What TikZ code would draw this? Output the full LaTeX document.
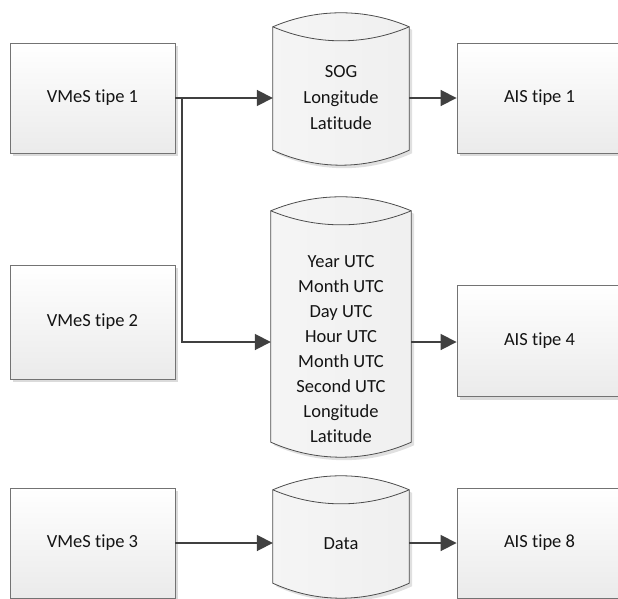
\documentclass[tikz,border=0pt]{standalone}
\usepackage{fontspec}
\setmainfont{Carlito}[Ligatures={NoCommon}]
\usetikzlibrary{calc,arrows.meta,shadows}

\tikzset{
  box/.style={draw=black!55, line width=0.9pt, top color=white, bottom color=black!8,
    minimum width=165pt, minimum height=110pt, inner sep=0pt,
    font=\fontsize{18.5}{22}\selectfont, text=black!92,
    general shadow={fill=black!14, shadow xshift=3pt, shadow yshift=-3pt}},
  dbbody/.style={minimum width=136pt, inner sep=0pt},
  dbline/.style={draw=black!70, line width=0.8pt, left color=black!4, middle color=white, right color=black!6,
    preaction={fill=black!12, transform canvas={shift={(3pt,-3pt)}}}},
  dbedge/.style={draw=black!70, line width=0.8pt},
  dbtext/.style={align=center, font=\fontsize{18.5}{25}\selectfont, text=black!92, inner sep=0pt},
  conn/.style={draw=black!75, line width=1.8pt, -{Triangle[length=16pt,width=16pt]}},
}

\newcommand\dbdraw[1]{%
  \path[dbline] (#1.north west)
    .. controls ($(#1.north west)!0.32!(#1.north east)+(0,-18.7)$) and ($(#1.north west)!0.68!(#1.north east)+(0,-18.7)$) .. (#1.north east)
    -- (#1.south east)
    .. controls ($(#1.south west)!0.68!(#1.south east)+(0,20)$) and ($(#1.south west)!0.32!(#1.south east)+(0,20)$) .. (#1.south west)
    -- cycle;
  \draw[dbedge] (#1.north west)
    .. controls ($(#1.north west)!0.32!(#1.north east)+(0,18.7)$) and ($(#1.north west)!0.68!(#1.north east)+(0,18.7)$) .. (#1.north east);
}

\begin{document}
\begin{tikzpicture}[x=1pt,y=-1pt]
\useasboundingbox (0,0) rectangle (618,599);

% source boxes
\node[box] (b1) at (92.5,98) {VMeS tipe 1};
\node[box, minimum height=114pt] (b2) at (92.5,322) {VMeS tipe 2};
\node[box] (b3) at (92.5,543) {VMeS tipe 3};

% target boxes
\node[box] (a1) at (539.5,98) {AIS tipe 1};
\node[box, minimum height=111pt] (a4) at (539.5,341) {AIS tipe 4};
\node[box] (a8) at (539.5,543) {AIS tipe 8};

% cylinders (body between corner line and side end)
\node[dbbody, minimum height=123pt] (c1) at (341,88.5) {};
\node[dbbody, minimum width=140pt, minimum height=231pt] (c2) at (341,326.5) {};
\node[dbbody, minimum height=93pt] (c3) at (341,536.5) {};
\dbdraw{c1}
\dbdraw{c2}
\dbdraw{c3}

\node[dbtext, font=\fontsize{18.5}{26}\selectfont] (t1) at (341,98) {SOG\\Longitude\\Latitude};
\node[dbtext] (t2) at (341,349.5) {Year UTC\\Month UTC\\Day UTC\\Hour UTC\\Month UTC\\Second UTC\\Longitude\\Latitude};
\node[dbtext] (t3) at (341,544) {Data};

% connectors
\coordinate (j1) at (182,98);
\coordinate (j2) at (182,342);
\draw[conn] (b1.east) -- (c1.west |- b1.east);
\draw[conn] (j1) -- (j2) -- (c2.west |- j2);
\draw[conn] (c1.east |- a1.west) -- (a1.west);
\draw[conn] (c2.east |- j2) -- (a4.west |- j2);
\draw[conn] (b3.east) -- (c3.west |- b3.east);
\draw[conn] (c3.east |- b3.east) -- (a8.west |- b3.east);
\end{tikzpicture}
\end{document}
